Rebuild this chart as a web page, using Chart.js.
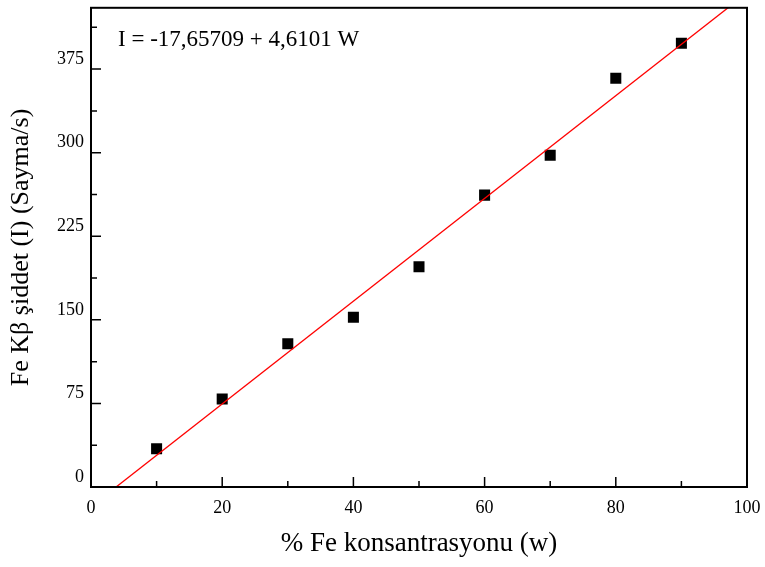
<!DOCTYPE html>
<html>
<head>
<meta charset="utf-8">
<script src="https://cdn.jsdelivr.net/npm/chart.js@4/dist/chart.umd.min.js"></script>
<style>
  html, body { margin: 0; padding: 0; background: #fff; }
  #wrap { width: 765px; height: 567px; }
</style>
</head>
<body>
<div id="wrap"><canvas id="c"></canvas></div>
<script>
// measured points (% Fe vs counts/s)
const feConc = [10, 20, 30, 40, 50, 60, 70, 80, 90];
const intensity = [34.3, 78.9, 128.6, 152.4, 197.6, 261.9, 297.6, 366.7, 398.2];

// fit line ends, read from I = -17,65709 + 4,6101 W
const fitX = [0, 100];
const fitY = [-17.66, 443.35];

const xTicks = [0, 20, 40, 60, 80, 100];
const yTicks = [0, 75, 150, 225, 300, 375];

const SERIF = '"Liberation Serif", "Times New Roman", serif';

// no label overhang padding, so the plot area stays where we put it
function noPad(s) {
  s.paddingTop = 0; s.paddingBottom = 0; s.paddingLeft = 0; s.paddingRight = 0;
}

// frame + inward ticks + equation text (Origin style)
const framePlugin = {
  id: 'frame',
  afterDraw(chart) {
    const { ctx, chartArea: a, scales: { x, y } } = chart;
    ctx.save();
    ctx.strokeStyle = '#000';
    ctx.lineWidth = 2;
    ctx.strokeRect(a.left, a.top, a.right - a.left, a.bottom - a.top);

    ctx.lineWidth = 1.5;
    ctx.beginPath();
    xTicks.forEach((v, i) => {
      const px = x.getPixelForValue(v);
      ctx.moveTo(px, a.bottom); ctx.lineTo(px, a.bottom - 10);
      if (i < xTicks.length - 1) {
        const mx = x.getPixelForValue(v + 10);
        ctx.moveTo(mx, a.bottom); ctx.lineTo(mx, a.bottom - 6);
      }
    });
    yTicks.forEach((v) => {
      const py = y.getPixelForValue(v);
      ctx.moveTo(a.left, py); ctx.lineTo(a.left + 10, py);
      const my = y.getPixelForValue(v + 37.5);
      ctx.moveTo(a.left, my); ctx.lineTo(a.left + 6, my);
    });
    ctx.stroke();

    ctx.fillStyle = '#000';
    ctx.font = '23px ' + SERIF;
    ctx.textBaseline = 'alphabetic';
    ctx.fillText('I = -17,65709 + 4,6101 W', a.left + 27, a.top + 38);
    ctx.restore();
  }
};

new Chart(document.getElementById('c'), {
  type: 'scatter',
  data: {
    datasets: [
      {
        label: 'fit',
        type: 'line',
        data: fitX.map((v, i) => ({ x: v, y: fitY[i] })),
        borderColor: '#ff0000',
        borderWidth: 1.3,
        pointRadius: 0,
        fill: false,
      },
      {
        label: 'data',
        data: feConc.map((v, i) => ({ x: v, y: intensity[i] })),
        pointStyle: 'rect',
        pointRadius: 7.8,
        backgroundColor: '#000',
        borderColor: '#000',
        borderWidth: 0,
      },
    ],
  },
  options: {
    responsive: true,
    maintainAspectRatio: false,
    animation: false,
    layout: { padding: { top: 5, right: 18, left: 0, bottom: 0 } },
    plugins: {
      legend: { display: false },
      tooltip: { enabled: false },
    },
    scales: {
      x: {
        type: 'linear',
        min: 0,
        max: 100,
        afterBuildTicks: (s) => { s.ticks = xTicks.map((v) => ({ value: v })); },
        afterFit: (s) => { s.height = 80; noPad(s); },
        grid: { display: false, drawTicks: false },
        border: { display: false },
        ticks: { color: '#000', font: { family: SERIF, size: 18 }, padding: 10, maxRotation: 0 },
        title: {
          display: true,
          text: '% Fe konsantrasyonu (w)',
          color: '#000',
          font: { family: SERIF, size: 27 },
          padding: { top: 0, bottom: 7 },
        },
      },
      y: {
        type: 'linear',
        min: 0,
        max: 430,
        afterBuildTicks: (s) => { s.ticks = yTicks.map((v) => ({ value: v })); },
        afterFit: (s) => { s.width = 91; noPad(s); },
        grid: { display: false, drawTicks: false },
        border: { display: false },
        ticks: { color: '#000', font: { family: SERIF, size: 18 }, padding: 7, labelOffset: -10 },
        title: {
          display: true,
          text: 'Fe Kβ şiddet (I) (Sayma/s)',
          color: '#000',
          font: { family: SERIF, size: 26 },
          padding: { top: 6, bottom: 0 },
        },
      },
    },
  },
  plugins: [framePlugin],
});
</script>
</body>
</html>
